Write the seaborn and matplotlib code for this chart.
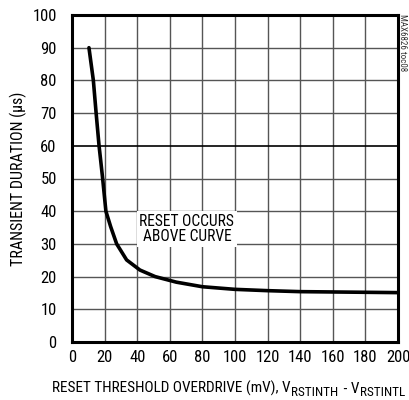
import matplotlib
matplotlib.use("Agg")
import matplotlib.pyplot as plt
import seaborn as sns
import pandas as pd

overdrive_mv = [10.4, 13.1, 14.8, 16.6, 17.6, 18.8, 20.8, 23.7, 27.4, 33.5, 41.7, 51, 64, 80, 100, 120, 140, 160, 180, 200]
duration_us = [90, 80, 70, 60, 55.5, 50, 40, 35.3, 30, 25.1, 22, 20, 18.3, 16.9, 16.1, 15.7, 15.4, 15.3, 15.2, 15.1]
x_ticks = [0, 20, 40, 60, 80, 100, 120, 140, 160, 180, 200]
y_ticks = [0, 10, 20, 30, 40, 50, 60, 70, 80, 90, 100]

sns.set_theme(style="white")
plt.rcParams['font.family'] = ['Roboto Condensed', 'DejaVu Sans']

df = pd.DataFrame({"x": overdrive_mv, "y": duration_us})

fig = plt.figure(figsize=(4.09, 4.0), dpi=100)
ax = fig.add_axes([72/409, 58/400, 326/409, 327/400])

sns.lineplot(data=df, x="x", y="y", ax=ax, color="black", linewidth=2.6, zorder=3)

ax.set_xlim(0, 200)
ax.set_ylim(0, 100)
ax.set_xticks(x_ticks)
ax.set_yticks(y_ticks)
for v in x_ticks[1:-1]:
    ax.axvline(v, color="#555555", linewidth=1.0, zorder=1)
for v in y_ticks[1:-1]:
    ax.axhline(v, color="black" if v == 60 else "#555555", linewidth=1.2 if v == 60 else 1.0, zorder=1)

for s in ax.spines.values():
    s.set_color("black")
    s.set_linewidth(2.2)
ax.tick_params(axis="both", length=0, labelsize=12, colors="black")
ax.tick_params(axis="y", pad=11)
ax.tick_params(axis="x", pad=6)

ax.text(70.5, 34.6, "RESET OCCURS\nABOVE CURVE", ha="center", va="center", fontsize=11.2,
        color="black", zorder=4, linespacing=1.05,
        bbox=dict(facecolor="white", edgecolor="none", pad=2))

ax.set_xlabel("")
ax.set_ylabel("TRANSIENT DURATION (µs)", fontsize=11.5, color="black", labelpad=4)

# x label built from pieces so the subscripts keep their larger size
fig.canvas.draw()
renderer = fig.canvas.get_renderer()
pieces = [("RESET THRESHOLD OVERDRIVE (mV), V", 11, 0),
          ("RSTINTH", 9.5, -2.5),
          (" - V", 11, 0),
          ("RSTINTL", 9.5, -2.5)]
x_px, base_y = 52, 7
for txt, size, dy in pieces:
    t = fig.text(x_px / 409, (base_y + dy) / 400, txt, fontsize=size, ha="left",
                 va="baseline", color="black")
    bb = t.get_window_extent(renderer=renderer)
    x_px = bb.x1 + 1

fig.text(403/409, 1 - 14/400, "MAX6826 toc08", rotation=270, ha="center", va="top",
         fontsize=6.5, color="#333333")

fig.savefig("out.png", dpi=100)
